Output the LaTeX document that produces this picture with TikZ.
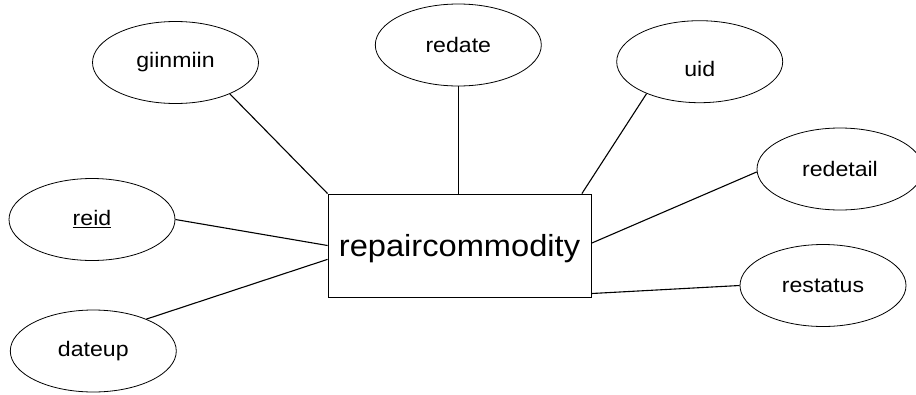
\documentclass[tikz,border=0pt]{standalone}
\usepackage{fontspec}
\setmainfont{Liberation Sans}
\newfontfamily\labfont[FakeStretch=1.1]{Liberation Sans}
\newfontfamily\entfont[FakeStretch=1.07]{Liberation Sans}
\usetikzlibrary{shapes.geometric}
\newcommand\myul[1]{\setbox0\hbox{#1}\rlap{\rule[-2.4pt]{\wd0}{1.2pt}}\box0}
\newcommand\mydown[2]{\raisebox{-#1}[\height][\depth]{#2}}
\tikzset{
  attr/.style={ellipse, draw, line width=0.8pt, inner sep=0pt,
    minimum width=166pt, minimum height=82pt,
    font=\labfont\fontsize{21}{25}\selectfont},
  entity/.style={rectangle, draw, line width=0.9pt, inner sep=0pt,
    minimum width=263pt, minimum height=103pt,
    font=\entfont\fontsize{30.5}{36}\selectfont},
  conn/.style={line width=1.1pt}
}
\begin{document}
\begin{tikzpicture}[x=1pt,y=-1pt]
\useasboundingbox (0,0) rectangle (916,394);
\node[entity] (rect) at (459.5,245.5) {\mydown{3pt}{repaircommodity}};
\node[attr] (giinmiin) at (175.5,62.5) {giinmiin};
\node[attr] (redate) at (458.3,45) {redate};
\node[attr] (uid) at (699.7,61.7) {\mydown{7.5pt}{uid}};
\node[attr] (redetail) at (840,169) {redetail};
\node[attr] (restatus) at (823,285.5) {restatus};
\node[attr] (reid) at (92,219.5) {\myul{reid}};
\node[attr] (dateup) at (93.3,351) {dateup};
\draw[conn] (giinmiin.-30) -- (rect.north west);
\draw[conn] (redate.south) -- (redate.south |- rect.north);
\draw[conn] (uid.-149) -- (rect.23.3);
\draw[conn] (redetail.182) -- (rect.1);
\draw[conn] (restatus.west) -- (rect.-20.2);
\draw[conn] (reid.east) -- (rect.west);
\draw[conn] (dateup.31) -- (rect.186.3);
\end{tikzpicture}
\end{document}
